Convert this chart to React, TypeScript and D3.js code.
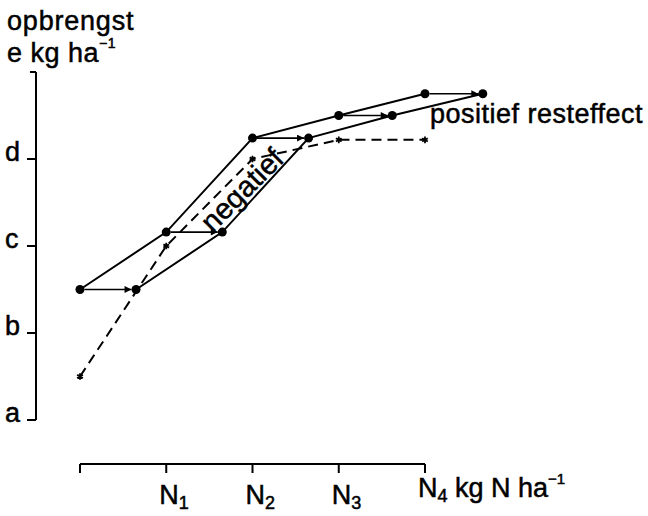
import React from "react";
import * as d3 from "d3";

// Nitrogen levels on the x axis (N units) and yield classes on the y axis
const nLevels = [0, 1, 2, 3, 4];
const nTickLabels = ["", "1", "2", "3", "4"];
const yieldLevels = [0, 1, 2, 3];
const yieldTickLabels = ["a", "b", "c", "d"];

// Yield curve without residual effect (dots)
const baseDose = [0, 1, 2, 3, 4];
const baseYield = [1.5, 2.16, 3.24, 3.5, 3.75];

// Same yields, shifted along the N axis (dots at arrow tips)
const shiftedDose = [0.65, 1.65, 2.65, 3.62, 4.67];
const shiftedYield = [1.5, 2.16, 3.24, 3.5, 3.75];

// Dashed curve (asterisks)
const dashedDose = [0, 1, 2, 3, 4];
const dashedYield = [0.5, 2.0, 3.0, 3.22, 3.22];

const W = 648;
const H = 516;
const FONT = "'Liberation Sans', Arial, Helvetica, sans-serif";

export default function App() {
  const x = d3.scaleLinear().domain([0, 4]).range([80, 425]);
  const y = d3.scaleLinear().domain([0, 4]).range([420, 72]);

  const line = d3
    .line<[number, number]>()
    .x((d) => x(d[0]))
    .y((d) => y(d[1]));

  const basePts = baseDose.map((d, i) => [d, baseYield[i]] as [number, number]);
  const shiftPts = shiftedDose.map((d, i) => [d, shiftedYield[i]] as [number, number]);
  const dashPts = dashedDose.map((d, i) => [d, dashedYield[i]] as [number, number]);

  const star = d3.symbol(d3.symbolAsterisk, 30)() as string;
  const r = 4.5;
  const axisY = 464;
  const axisX = 36;
  const ink = { fill: "#000", stroke: "#000", strokeWidth: 0.5 };

  return (
    <svg
      width={W}
      height={H}
      style={{ position: "absolute", left: 0, top: 0, background: "#fff" }}
      fontFamily={FONT}
    >
      <defs>
        <marker
          id="head"
          viewBox="0 0 10 10"
          refX="10"
          refY="5"
          markerWidth="10"
          markerHeight="7"
          markerUnits="userSpaceOnUse"
          orient="auto"
        >
          <path d="M0,0 L10,5 L0,10 Z" fill="#000" />
        </marker>
      </defs>

      {/* y axis title */}
      <text x={7} y={30} fontSize={27} letterSpacing={0.8} {...ink}>
        opbrengst
      </text>
      <text x={7} y={62} fontSize={27} letterSpacing={0.5} {...ink}>
        e kg ha
        <tspan fontSize={14} dy={-14}>
          −1
        </tspan>
      </text>

      {/* y axis */}
      <line x1={axisX} x2={axisX} y1={y(4)} y2={y(0)} stroke="#000" strokeWidth={2} />
      <line x1={axisX - 6} x2={axisX} y1={y(4)} y2={y(4)} stroke="#000" strokeWidth={2} />
      {yieldLevels.map((v, i) => (
        <g key={"yt" + i}>
          <line x1={axisX - 9} x2={axisX} y1={y(v)} y2={y(v)} stroke="#000" strokeWidth={2} />
          <text x={5} y={y(v) + 2} fontSize={27} {...ink}>
            {yieldTickLabels[i]}
          </text>
        </g>
      ))}

      {/* x axis */}
      <line x1={x(0)} x2={x(4)} y1={axisY} y2={axisY} stroke="#000" strokeWidth={2} />
      {nLevels.map((v, i) => (
        <line
          key={"xt" + i}
          x1={x(v)}
          x2={x(v)}
          y1={axisY}
          y2={axisY + 9}
          stroke="#000"
          strokeWidth={2}
        />
      ))}
      {nLevels.slice(1).map((v, i) => {
        const isLast = v === 4;
        return (
          <text
            key={"xl" + i}
            x={x(v) - 7}
            y={isLast ? 497 : 504}
            fontSize={27}
            {...ink}
          >
            N
            <tspan fontSize={18} dy={5}>
              {nTickLabels[v]}
            </tspan>
            {isLast ? (
              <>
                <tspan dy={-5}> kg N ha</tspan>
                <tspan fontSize={15} dy={-13}>
                  −1
                </tspan>
              </>
            ) : null}
          </text>
        );
      })}

      {/* dashed curve */}
      <path
        d={line(dashPts) as string}
        fill="none"
        stroke="#000"
        strokeWidth={2}
        strokeDasharray="10 6"
      />
      {dashPts.map((p, i) => (
        <path
          key={"s" + i}
          d={star}
          transform={`translate(${x(p[0])},${y(p[1])})`}
          stroke="#000"
          strokeWidth={1.8}
          fill="none"
        />
      ))}

      {/* solid curves */}
      <path d={line(basePts) as string} fill="none" stroke="#000" strokeWidth={2} />
      <path d={line(shiftPts) as string} fill="none" stroke="#000" strokeWidth={2} />

      {/* horizontal shift arrows */}
      {basePts.map((p, i) => (
        <line
          key={"a" + i}
          x1={x(p[0]) + r}
          x2={x(shiftPts[i][0]) - r}
          y1={y(p[1])}
          y2={y(shiftPts[i][1])}
          stroke="#000"
          strokeWidth={1.6}
          markerEnd="url(#head)"
        />
      ))}

      {basePts.concat(shiftPts).map((p, i) => (
        <circle key={"c" + i} cx={x(p[0])} cy={y(p[1])} r={r} fill="#000" />
      ))}

      {/* annotations */}
      <text
        fontSize={29}
        textAnchor="middle"
        transform={`translate(249,197) rotate(-45)`}
        {...ink}
      >
        negatief
      </text>
      <text x={430} y={123} fontSize={27} letterSpacing={0.5} {...ink}>
        positief resteffect
      </text>
    </svg>
  );
}
